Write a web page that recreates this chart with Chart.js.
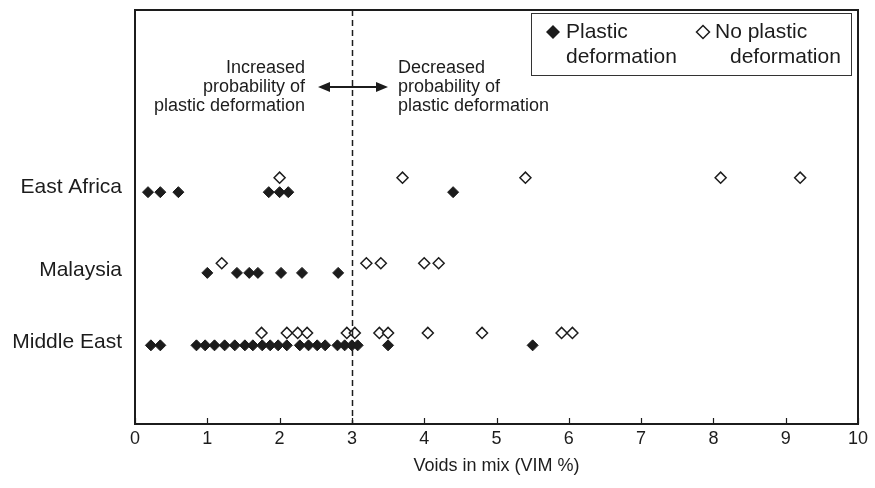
<!DOCTYPE html>
<html>
<head>
<meta charset="utf-8">
<script src="https://cdn.jsdelivr.net/npm/chart.js@4.4.1/dist/chart.umd.min.js"></script>
<style>
  html, body { margin: 0; padding: 0; background: #fff; }
  #wrap { width: 875px; height: 488px; }
</style>
</head>
<body>
<div id="wrap"><canvas id="chart"></canvas></div>
<script>
// Regions, and the level each one sits at on the hidden numeric y axis
const regions = ['East Africa', 'Malaysia', 'Middle East'];
const regionLevel = [3.43, 2.23, 1.19];
const plasticLevel = [3.36, 2.19, 1.14];
const noPlasticLevel = [3.57, 2.33, 1.32];

// VIM (%) of each sample, per region
const plastic = [
  [0.18, 0.35, 0.6, 1.85, 2.0, 2.12, 4.4],
  [1.0, 1.41, 1.58, 1.7, 2.02, 2.31, 2.81],
  [0.22, 0.35, 0.85, 0.97, 1.1, 1.24, 1.38, 1.52, 1.63, 1.76, 1.87, 1.98,
   2.1, 2.28, 2.4, 2.52, 2.63, 2.8, 2.9, 3.0, 3.08, 3.5, 5.5]
];
const noPlastic = [
  [2.0, 3.7, 5.4, 8.1, 9.2],
  [1.2, 3.2, 3.4, 4.0, 4.2],
  [1.75, 2.1, 2.25, 2.38, 2.93, 3.04, 3.38, 3.5, 4.05, 4.8, 5.9, 6.05]
];

const xTicks = [0, 1, 2, 3, 4, 5, 6, 7, 8, 9, 10];
const threshold = 3;

const FONT = 'Arial, "Liberation Sans", Helvetica, sans-serif';
const INK = '#1c1c1c';

function toPoints(groups, levels) {
  const pts = [];
  groups.forEach((vals, i) => vals.forEach(v => pts.push({ x: v, y: levels[i] })));
  return pts;
}

function diamond(ctx, x, y, r) {
  ctx.beginPath();
  ctx.moveTo(x - r, y);
  ctx.lineTo(x, y - r);
  ctx.lineTo(x + r, y);
  ctx.lineTo(x, y + r);
  ctx.closePath();
}

const overlay = {
  id: 'overlay',
  afterDatasetsDraw(chart) {
    const { ctx, chartArea: a, scales } = chart;
    const xs = scales.x;
    ctx.save();

    // dashed threshold line
    const tx = Math.round(xs.getPixelForValue(threshold)) + 0.5;
    ctx.strokeStyle = INK;
    ctx.lineWidth = 1.5;
    ctx.setLineDash([6, 4]);
    ctx.beginPath();
    ctx.moveTo(tx, a.top);
    ctx.lineTo(tx, a.bottom);
    ctx.stroke();
    ctx.setLineDash([]);

    // inward ticks on the x axis
    ctx.lineWidth = 1.2;
    xTicks.forEach(v => {
      const px = Math.round(xs.getPixelForValue(v)) + 0.5;
      ctx.beginPath();
      ctx.moveTo(px, a.bottom);
      ctx.lineTo(px, a.bottom - 6);
      ctx.stroke();
    });

    // plot frame
    ctx.lineWidth = 2;
    ctx.strokeRect(a.left, a.top, a.right - a.left, a.bottom - a.top);

    // annotation either side of the threshold
    ctx.fillStyle = INK;
    ctx.font = '18px ' + FONT;
    ctx.textBaseline = 'middle';
    const lines = [68, 87, 106];
    ctx.textAlign = 'right';
    ['Increased', 'probability of', 'plastic deformation'].forEach((t, i) => ctx.fillText(t, 305, lines[i]));
    ctx.textAlign = 'left';
    ['Decreased', 'probability of', 'plastic deformation'].forEach((t, i) => ctx.fillText(t, 398, lines[i]));

    // double-headed arrow
    const ay = 87, ax0 = 318, ax1 = 388;
    ctx.lineWidth = 2;
    ctx.beginPath();
    ctx.moveTo(ax0 + 8, ay);
    ctx.lineTo(ax1 - 8, ay);
    ctx.stroke();
    ctx.beginPath();
    ctx.moveTo(ax0, ay); ctx.lineTo(ax0 + 12, ay - 5); ctx.lineTo(ax0 + 12, ay + 5); ctx.closePath();
    ctx.moveTo(ax1, ay); ctx.lineTo(ax1 - 12, ay - 5); ctx.lineTo(ax1 - 12, ay + 5); ctx.closePath();
    ctx.fill();

    // legend box
    ctx.lineWidth = 1;
    ctx.strokeStyle = '#333';
    ctx.strokeRect(531.5, 13.5, 320, 62);
    ctx.font = '21px ' + FONT;
    ctx.fillStyle = INK;
    ctx.textAlign = 'left';
    ctx.fillText('Plastic', 566, 32);
    ctx.fillText('deformation', 566, 57);
    ctx.fillText('No plastic', 715, 32);
    ctx.fillText('deformation', 730, 57);
    ctx.strokeStyle = INK;
    diamond(ctx, 553, 32, 7);
    ctx.fill();
    ctx.fillStyle = '#fff';
    ctx.lineWidth = 1.5;
    diamond(ctx, 703, 32, 6.5);
    ctx.fill();
    ctx.stroke();

    ctx.restore();
  }
};

new Chart(document.getElementById('chart'), {
  type: 'scatter',
  data: {
    datasets: [
      {
        label: 'No plastic deformation',
        data: toPoints(noPlastic, noPlasticLevel),
        pointStyle: 'rectRot',
        pointRadius: 5.5,
        pointBackgroundColor: '#fff',
        pointBorderColor: INK,
        pointBorderWidth: 1.5
      },
      {
        label: 'Plastic deformation',
        data: toPoints(plastic, plasticLevel),
        pointStyle: 'rectRot',
        pointRadius: 5.5,
        pointBackgroundColor: INK,
        pointBorderColor: INK,
        pointBorderWidth: 1
      }
    ]
  },
  options: {
    responsive: true,
    maintainAspectRatio: false,
    animation: false,
    layout: { padding: { top: 10, right: 17, left: 0, bottom: 0 } },
    plugins: { legend: { display: false }, tooltip: { enabled: false } },
    scales: {
      x: {
        type: 'linear',
        min: 0,
        max: 10,
        afterBuildTicks: s => { s.ticks = xTicks.map(v => ({ value: v })); },
        afterFit: s => { s.height = 64; s.paddingLeft = 0; s.paddingRight = 0; },
        grid: { display: false, drawTicks: false },
        border: { display: false },
        ticks: { color: INK, font: { family: FONT, size: 18 }, padding: 4 },
        title: {
          display: true,
          text: 'Voids in mix (VIM %)',
          color: INK,
          font: { family: FONT, size: 18 },
          padding: { top: 0, bottom: 11 }
        }
      },
      y: {
        type: 'linear',
        min: 0,
        max: 6,
        afterBuildTicks: s => { s.ticks = regionLevel.map(v => ({ value: v })); },
        afterFit: s => { s.width = 135; s.paddingTop = 0; s.paddingBottom = 0; },
        grid: { display: false, drawTicks: false },
        border: { display: false },
        ticks: {
          color: INK,
          font: { family: FONT, size: 21 },
          padding: 13,
          callback: (v) => regions[regionLevel.indexOf(v)]
        }
      }
    }
  },
  plugins: [overlay]
});
</script>
</body>
</html>
